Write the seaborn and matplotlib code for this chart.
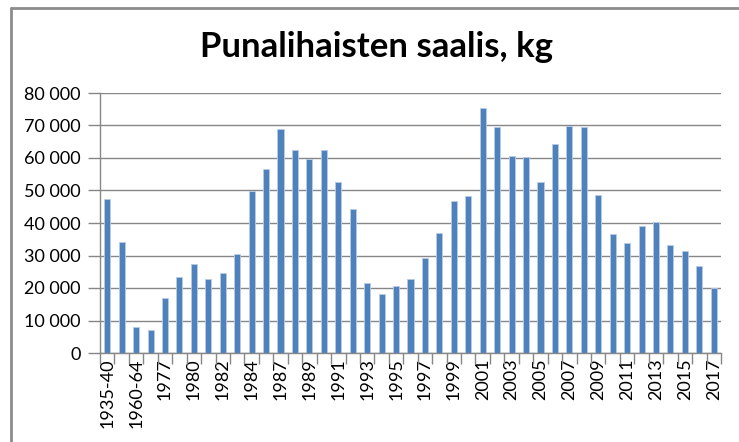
import matplotlib
matplotlib.use("Agg")
import matplotlib.pyplot as plt
from matplotlib.lines import Line2D
from matplotlib.ticker import FuncFormatter, FixedLocator
import pandas as pd
import seaborn as sns

# Catch periods (labels shown on every other bar)
periods = [
    "1935-40", "1941-59", "1960-64", "1965-76", "1977", "1978-79", "1980",
    "1981", "1982", "1983", "1984", "1985-86", "1987", "1988", "1989",
    "1990", "1991", "1992", "1993", "1994", "1995", "1996", "1997", "1998",
    "1999", "2000", "2001", "2002", "2003", "2004", "2005", "2006", "2007",
    "2008", "2009", "2010", "2011", "2012", "2013", "2014", "2015", "2016",
    "2017",
]
# Catch in kilograms
catch_kg = [
    47400, 34200, 7900, 7100, 16900, 23500, 27500,
    22900, 24700, 30600, 49800, 56600, 68900, 62400, 59800,
    62400, 52700, 44300, 21400, 18200, 20500, 22900, 29200, 37000,
    46700, 48200, 75500, 69500, 60500, 60300, 52700, 64400, 69900,
    69500, 48500, 36700, 33700, 39200, 40400, 33200, 31400, 26900,
    19900,
]
y_ticks = [0, 10000, 20000, 30000, 40000, 50000, 60000, 70000, 80000]

df = pd.DataFrame({"period": periods, "kg": catch_kg})

sns.set_theme(style="white")
plt.rcParams["font.family"] = ["Lato", "DejaVu Sans"]

W, H = 739, 442
fig = plt.figure(figsize=(W / 100, H / 100), dpi=100)
ax = fig.add_axes([100 / W, 1 - 353 / H, 621 / W, 260 / H])

sns.barplot(data=df, x="period", y="kg", order=periods, color="#4F81BD",
            saturation=1, width=0.42, ax=ax, edgecolor="#b7cbe6",
            linewidth=0.6)

grid_col = "#878787"
ax.set_ylim(0, 80000)
ax.set_xlim(-0.5, len(periods) - 0.5)
ax.yaxis.set_major_locator(FixedLocator(y_ticks))
ax.yaxis.set_major_formatter(
    FuncFormatter(lambda v, p: f"{int(v):,}".replace(",", " ")))
ax.grid(axis="y", color=grid_col, linewidth=1.0)
ax.set_axisbelow(True)

# x labels on every other bar, tick marks on category boundaries
ax.set_xticks(range(0, len(periods), 2))
ax.set_xticklabels(periods[::2], rotation=90)
ax.xaxis.set_minor_locator(FixedLocator([i - 0.5 for i in range(len(periods) + 1)]))
ax.tick_params(axis="x", which="major", length=0, pad=4, labelsize=13,
               labelcolor="black")
ax.tick_params(axis="x", which="minor", length=8, width=1, color=grid_col,
               direction="out", bottom=True)
ax.tick_params(axis="y", which="major", length=9, width=1, color=grid_col,
               direction="out", left=True, pad=5, labelsize=13,
               labelcolor="black")

for side in ("top", "right"):
    ax.spines[side].set_visible(False)
for side in ("left", "bottom"):
    ax.spines[side].set_color(grid_col)
    ax.spines[side].set_linewidth(1.0)

ax.set_xlabel("")
ax.set_ylabel("")

fig.text(376 / W, 1 - 47 / H, "Punalihaisten saalis, kg", ha="center",
         va="center", fontsize=25, fontweight="bold", color="black")

# chart frame (top and left edges)
fig.add_artist(Line2D([11 / W, 1], [1 - 8 / H, 1 - 8 / H],
                      transform=fig.transFigure, color="#8c8c8c", linewidth=2))
fig.add_artist(Line2D([11 / W, 11 / W], [0, 1 - 8 / H],
                      transform=fig.transFigure, color="#8c8c8c", linewidth=2))

fig.savefig("out.png", dpi=100)
